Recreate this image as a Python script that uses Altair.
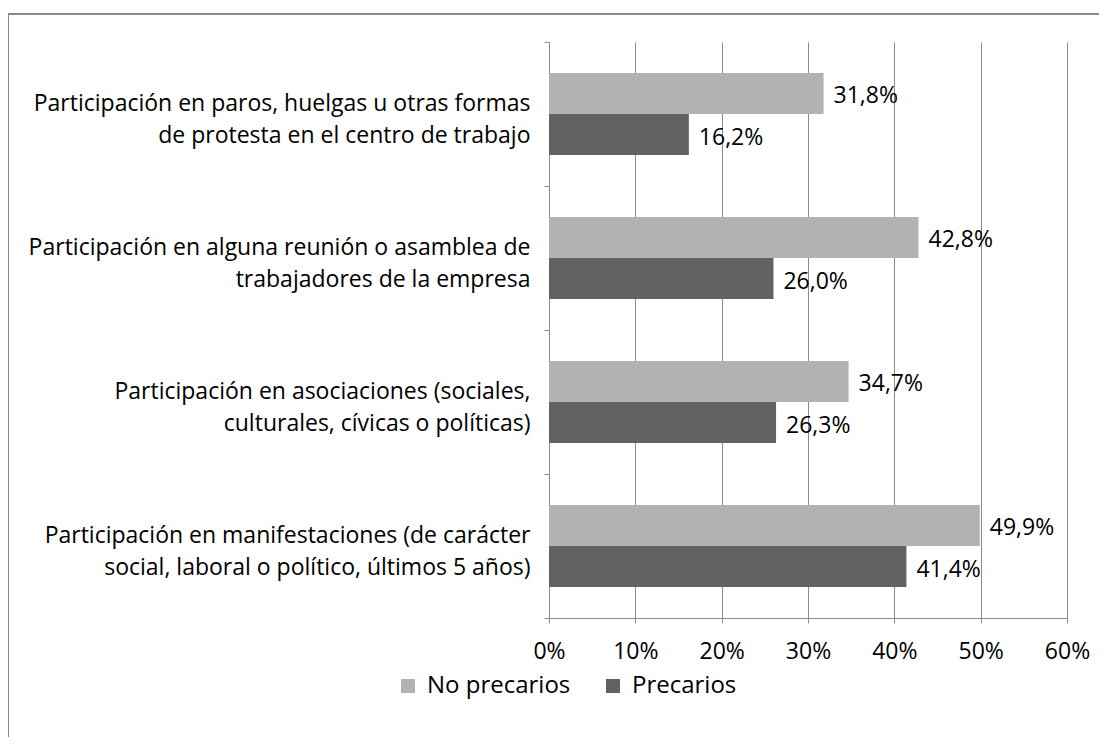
import altair as alt
import pandas as pd

categories = [
    "Participación en paros, huelgas u otras formas|de protesta en el centro de trabajo",
    "Participación en alguna reunión o asamblea de|trabajadores de la empresa",
    "Participación en asociaciones (sociales,|culturales, cívicas o políticas)",
    "Participación en manifestaciones (de carácter|social, laboral o político, últimos 5 años)",
]
no_precarios = [31.8, 42.8, 34.7, 49.9]
precarios = [16.2, 26.0, 26.3, 41.4]
series = ["No precarios", "Precarios"]
colors = ["#b2b2b2", "#626262"]
x_ticks = [0, 10, 20, 30, 40, 50, 60]

rows = []
for c, a, b in zip(categories, no_precarios, precarios):
    rows.append({"cat": c, "serie": series[0], "v": a})
    rows.append({"cat": c, "serie": series[1], "v": b})
df = pd.DataFrame(rows)

FONT = "Open Sans"
FS = 23
GRID = "#8c8c8c"

y_enc = alt.Y(
    "cat:N",
    sort=categories,
    scale=alt.Scale(paddingInner=0, paddingOuter=0),
    axis=alt.Axis(
        title=None,
        labelExpr="split(datum.label, '|')",
        tickBand="extent",
        tickSize=5,
        tickColor=GRID,
        domainColor=GRID,
        labelFontSize=FS,
        labelFont=FONT,
        labelColor="#000000",
        labelLineHeight=32,
        labelPadding=14,
        labelOffset=-11,
        labelLimit=0,
        grid=False,
    ),
)
yoff_enc = alt.YOffset(
    "serie:N", sort=series, scale=alt.Scale(paddingInner=0, paddingOuter=0.756)
)
x_enc = alt.X(
    "v:Q",
    scale=alt.Scale(domain=[0, 60], nice=False),
    axis=alt.Axis(
        title=None,
        values=x_ticks,
        labelExpr="datum.value + '%'",
        grid=True,
        gridColor=GRID,
        gridWidth=1,
        tickSize=5,
        tickColor=GRID,
        domainColor=GRID,
        labelFontSize=FS,
        labelFont=FONT,
        labelColor="#000000",
        labelPadding=28,
        labelBaseline="middle",
        labelFlush=False,
        labelOverlap=False,
    ),
)

base = alt.Chart(df)

bars = base.mark_bar().encode(
    y=y_enc,
    yOffset=yoff_enc,
    x=x_enc,
    color=alt.Color(
        "serie:N",
        sort=series,
        scale=alt.Scale(domain=series, range=colors),
        legend=alt.Legend(
            title=None,
            orient="none",
            legendX=-153,
            legendY=632,
            direction="horizontal",
            symbolType="square",
            symbolSize=196,
            symbolStrokeWidth=0,
            labelFontSize=24,
            labelFont=FONT,
            labelColor="#000000",
            columnPadding=30,
            labelOffset=7,
        ),
    ),
)

labels = base.transform_calculate(
    lab="replace(format(datum.v, '.1f'), '.', ',') + '%'"
).mark_text(
    align="left", baseline="middle", dx=10, dy=3, fontSize=FS, font=FONT, color="#000000"
).encode(
    y=alt.Y("cat:N", sort=categories),
    yOffset=alt.YOffset("serie:N", sort=series),
    x=alt.X("v:Q"),
    text="lab:N",
)

frame = alt.Chart(alt.Data(values=[{}])).mark_rect(
    fillOpacity=0, stroke="#888888", strokeWidth=2
).encode(
    x=alt.value(-541), x2=alt.value(600), y=alt.value(-28), y2=alt.value(760)
)

chart = alt.layer(frame, bars, labels).properties(
    width=518,
    height=576,
    autosize=alt.AutoSizeParams(type="none"),
    padding={"left": 541, "top": 34, "right": 32, "bottom": 119},
).configure_view(stroke=None)

chart.save("out.html", embed_options={"renderer": "svg", "actions": False})
